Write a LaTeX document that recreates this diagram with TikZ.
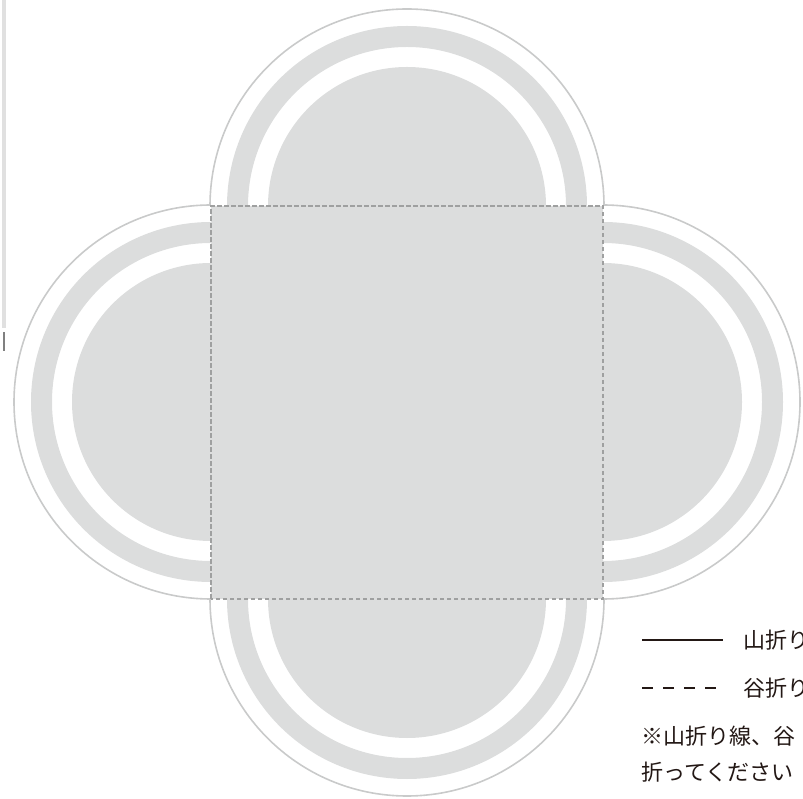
\documentclass[tikz,border=0pt]{standalone}
\usepackage{fontspec}
\newfontfamily\jpfont{Noto Sans CJK JP}
\usetikzlibrary{positioning}
\definecolor{paperGray}{HTML}{DCDDDD}
\definecolor{cutGray}{HTML}{C9CACA}
\definecolor{foldGray}{HTML}{9FA0A0}
\definecolor{inkColor}{HTML}{231815}
\tikzset{
	paper/.style={fill=paperGray},
	cutline/.style={draw=cutGray, line width=1.6pt},
	valley/.style={draw=foldGray, line width=2.2pt, dash pattern=on 4.5pt off 2.5pt},
	legendline/.style={draw=inkColor, line width=2.2pt},
	legendtxt/.style={anchor=base west, inner sep=0, font=\jpfont\fontsize{22}{26}\selectfont, text=inkColor}
}

\begin{document}
\begin{tikzpicture}[x=1pt,y=1pt]
	\useasboundingbox (0,0) rectangle (803,798);
	% side bar
	\fill[black!12] (2,470) rectangle (6,798);
	\draw[black!50, line width=1.5pt] (4,447) -- (4,466);
	% four lobes
	\foreach \ang/\cx/\cy in {90/407/592, 180/211/396, 270/407/199, 0/603/396}{
		\begin{scope}[shift={(\cx,\cy)}, rotate=\ang]
			\draw[cutline] (0,-197) arc[start angle=-90, end angle=90, radius=197pt];
			\fill[paper, even odd rule] (0,-180) arc[start angle=-90, end angle=90, radius=180pt] -- cycle
				(0,-159) arc[start angle=-90, end angle=90, radius=159pt] -- cycle;
			\fill[paper] (0,-139) arc[start angle=-90, end angle=90, radius=139pt] -- cycle;
		\end{scope}
	}
	% centre square
	\fill[paper] (211,199) rectangle (603,592);
	\draw[valley] (211,199) rectangle (603,592);
	% legend
	\coordinate (mA) at (642,158);
	\coordinate (mB) at (723,158);
	\coordinate (vA) at (642,110);
	\coordinate (vB) at (718,110);
	\draw[legendline] (mA) -- (mB);
	\draw[legendline, dash pattern=on 11pt off 10pt] (vA) -- (vB);
	\node[legendtxt] (mountain) at (743,149.5) {山折り};
	\node[legendtxt] (valleytxt) at (743,101.5) {谷折り};
	\node[legendtxt] (note1) at (641,53.5) {※山折り線、谷};
	\node[legendtxt] (note2) at (641,17.5) {折ってください};
\end{tikzpicture}
\end{document}
